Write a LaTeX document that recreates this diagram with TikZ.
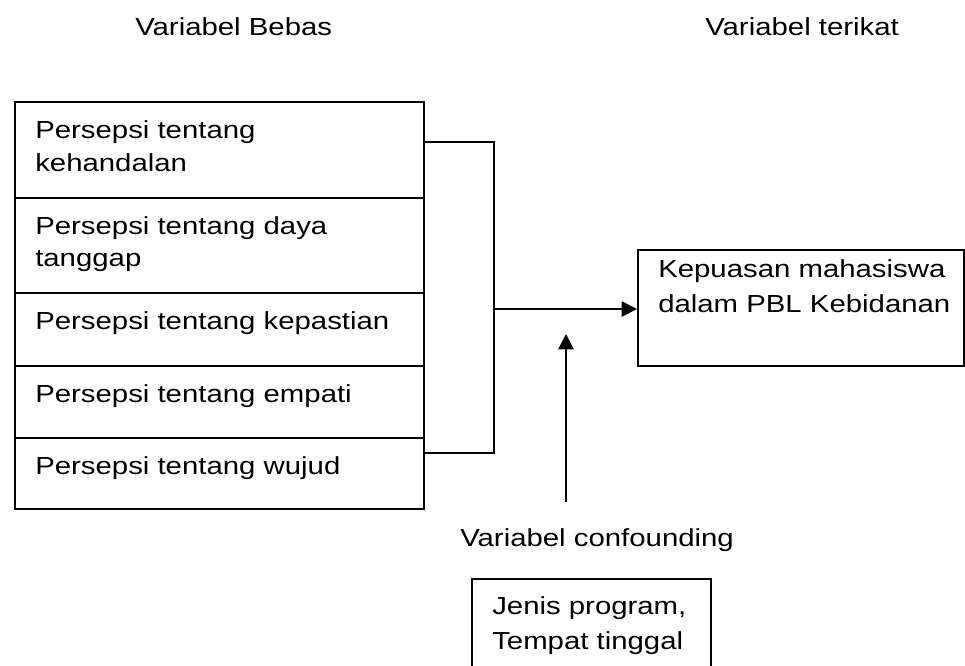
\documentclass[tikz,border=0pt]{standalone}
\usepackage{fontspec}
\setmainfont[FakeStretch=1.19]{Liberation Sans}
\usetikzlibrary{arrows.meta}
\begin{document}
\begin{tikzpicture}[x=0.75pt,y=-0.75pt,
  box/.style={draw=black,line width=1.4pt,rectangle,inner sep=0pt,anchor=north west},
  txt/.style={anchor=base west,inner sep=0pt,font=\fontsize{18.5}{25}\selectfont},
  link/.style={draw=black,line width=1.4pt},
  arr/.style={link,-{Triangle[length=11.5pt,width=11.5pt]}}]
\useasboundingbox (0,0) rectangle (965,666);
% header texts
\node[txt] (hbebas) at (135,36) {Variabel Bebas};
\node[txt] (hterikat) at (705,36) {Variabel terikat};
% left stack
\node[box,minimum width=409*0.75pt,minimum height=96*0.75pt] (c1) at (14,101) {};
\node[box,minimum width=409*0.75pt,minimum height=95*0.75pt] (c2) at (14,197) {};
\node[box,minimum width=409*0.75pt,minimum height=73*0.75pt] (c3) at (14,292) {};
\node[box,minimum width=409*0.75pt,minimum height=72*0.75pt] (c4) at (14,365) {};
\node[box,minimum width=409*0.75pt,minimum height=71*0.75pt] (c5) at (14,437) {};
\node[txt] (t1a) at (35,139) {Persepsi tentang};
\node[txt] (t1b) at (35,172) {kehandalan};
\node[txt] (t2a) at (35,235) {Persepsi tentang daya};
\node[txt] (t2b) at (35,267) {tanggap};
\node[txt] (t3) at (35,330) {Persepsi tentang kepastian};
\node[txt] (t4) at (35,403) {Persepsi tentang empati};
\node[txt] (t5) at (35,475) {Persepsi tentang wujud};
% result box
\node[box,minimum width=326*0.75pt,minimum height=116*0.75pt] (res) at (637,249) {};
\node[txt] (r1) at (658,278) {Kepuasan mahasiswa};
\node[txt] (r2) at (658,313) {dalam PBL Kebidanan};
% confounding
\node[txt] (hconf) at (460,547) {Variabel confounding};
\node[box,minimum width=239*0.75pt,minimum height=100*0.75pt] (conf) at (471,578) {};
\node[txt] (cf1) at (492,615) {Jenis program,};
\node[txt] (cf2) at (492,650) {Tempat tinggal};
% connectors
\coordinate (b1) at (423,142);
\coordinate (b5) at (423,453);
\coordinate (jt) at (494,142);
\coordinate (jb) at (494,453);
\coordinate (j) at (494,309);
\draw[link] (b1) -- (jt) -- (jb) -- (b5);
\draw[arr] (j) -- (res.west |- j);
\coordinate (cs) at (566,502);
\coordinate (ce) at (566,334);
\draw[arr] (cs) -- (ce);
\end{tikzpicture}
\end{document}
